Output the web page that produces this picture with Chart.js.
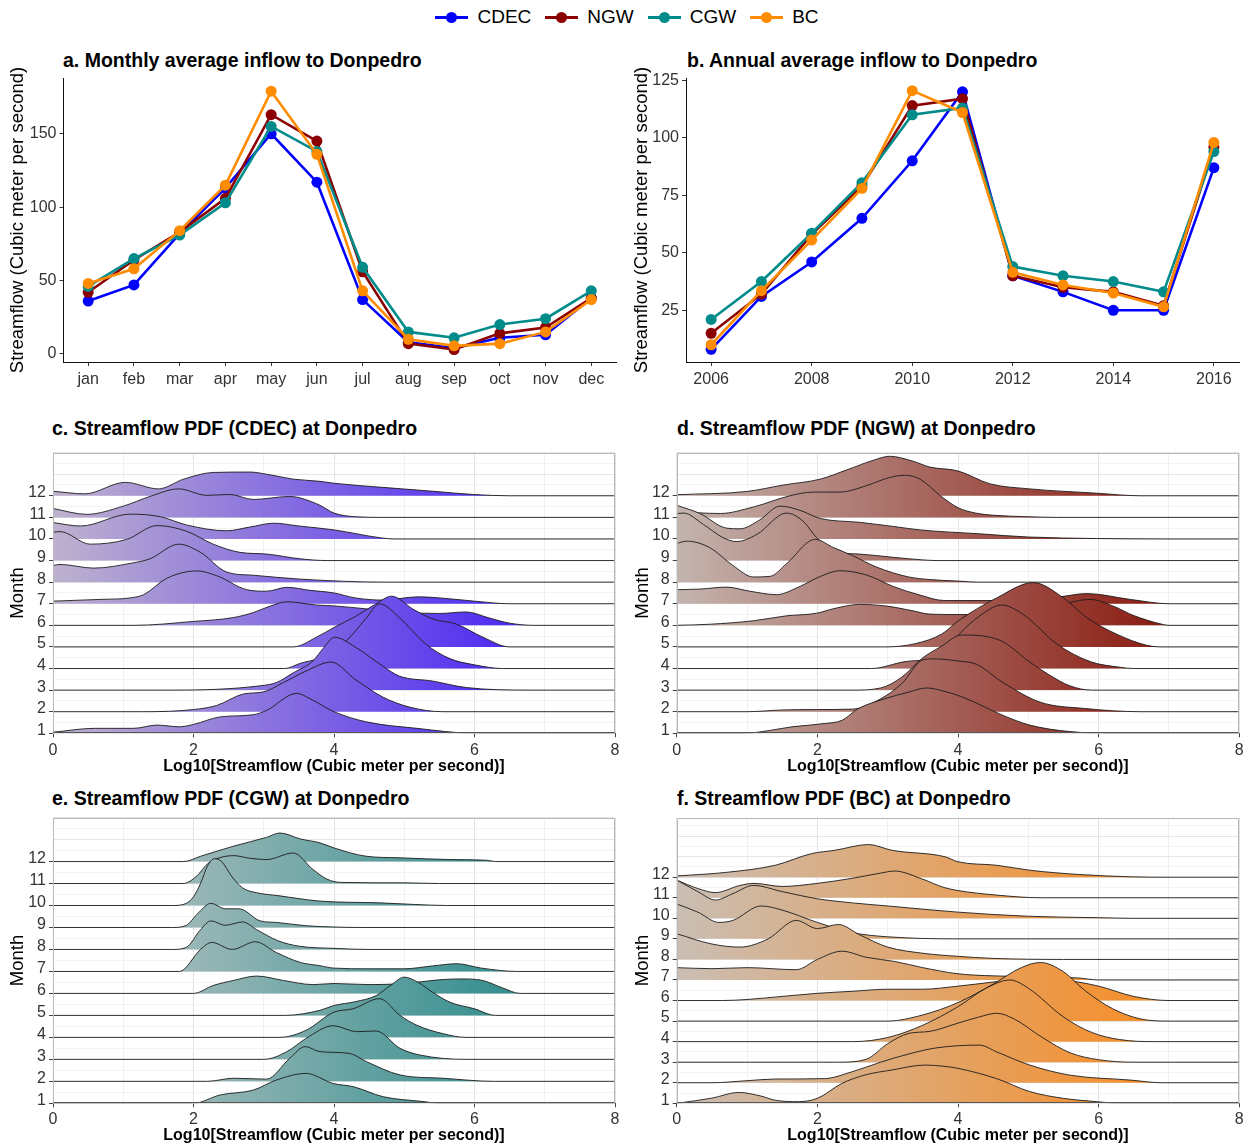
<!DOCTYPE html>
<html><head><meta charset="utf-8">
<script src="https://cdn.jsdelivr.net/npm/chart.js@4.4.1/dist/chart.umd.min.js"></script>
<style>
body{margin:0;background:#fff;}
#wrap{position:relative;width:1254px;height:1147px;background:#fff;font-family:"Liberation Sans",Arial,sans-serif;overflow:hidden}
.box{position:absolute}
.ttl{position:absolute;font-weight:bold;font-size:19.5px;line-height:24px;color:#000;white-space:nowrap}
#legend{position:absolute;top:4px;left:0;width:1254px;display:flex;justify-content:center;align-items:center;font-size:19px;line-height:26px;color:#000}
.lg{display:flex;align-items:center;margin:0 7px}
.sym{position:relative;width:33px;height:3px;margin-right:9px}
.sym i{position:absolute;left:11px;top:-4px;width:11px;height:11px;border-radius:50%}
</style></head>
<body>
<div id="wrap">
  <div id="legend"></div>
  <div class="ttl" style="left:63px;top:48px">a. Monthly average inflow to Donpedro</div>
  <div class="ttl" style="left:687px;top:48px">b. Annual average inflow to Donpedro</div>
  <div class="ttl" style="left:52px;top:416px">c. Streamflow PDF (CDEC) at Donpedro</div>
  <div class="ttl" style="left:677px;top:416px">d. Streamflow PDF (NGW) at Donpedro</div>
  <div class="ttl" style="left:52px;top:786px">e. Streamflow PDF (CGW) at Donpedro</div>
  <div class="ttl" style="left:677px;top:786px">f. Streamflow PDF (BC) at Donpedro</div>
  <div class="box" style="left:0;top:40px"><canvas id="ca" width="627" height="360"></canvas></div>
  <div class="box" style="left:627px;top:40px"><canvas id="cb" width="627" height="360"></canvas></div>
  <div class="box" style="left:0;top:440px"><canvas id="cc" width="627" height="340"></canvas></div>
  <div class="box" style="left:627px;top:440px"><canvas id="cd" width="627" height="340"></canvas></div>
  <div class="box" style="left:0;top:805px"><canvas id="ce" width="627" height="342"></canvas></div>
  <div class="box" style="left:627px;top:805px"><canvas id="cf" width="627" height="342"></canvas></div>
</div>
<script>
// ---------------- DATA ----------------
const seriesNames = ['CDEC', 'NGW', 'CGW', 'BC'];
const seriesColors = ['#0000FF', '#8B0000', '#008B8B', '#FF8C00'];

const monthLabels = ['jan','feb','mar','apr','may','jun','jul','aug','sep','oct','nov','dec'];
const cdecMonthly = [36, 47, 82, 113, 150, 117, 37, 8, 4, 11, 13, 38];
const ngwMonthly  = [42, 64, 83, 106, 163, 145, 56, 7, 3, 14, 18, 38];
const cgwMonthly  = [46, 65, 81, 103, 155, 138, 59, 15, 11, 20, 24, 43];
const bcMonthly   = [48, 58, 84, 115, 179, 136, 43, 10, 5.5, 7, 15, 37];

const years = [2006, 2007, 2008, 2009, 2010, 2011, 2012, 2013, 2014, 2015, 2016];
const cdecAnnual = [8, 31, 46, 65, 90, 120, 40, 33, 25, 25, 87];
const ngwAnnual  = [15, 32, 58, 79, 114, 117, 40, 35, 33, 27, 96];
const cgwAnnual  = [21, 37.5, 58.5, 80.5, 110, 113, 44, 40, 37.5, 33, 94];
const bcAnnual   = [10, 33.5, 55.5, 78, 120.5, 111, 41.5, 36, 32.5, 26.5, 98];

const ridgeMonths = [1,2,3,4,5,6,7,8,9,10,11,12];
const xTicks = [0, 2, 4, 6, 8];

// density knots [log10 flow, height in month-row units], month 1 .. 12
const cdecPdf = [
 [[0,0.05],[0.6,0.23],[1.15,0.23],[1.48,0.38],[1.8,0.3],[2.0,0.41],[2.38,0.76],[2.85,0.86],[3.04,1.06],[3.47,1.85],[3.66,1.6],[4.0,1.0],[4.46,0.53],[5.18,0.23],[6.0,0]],
 [[1.29,0],[2.0,0.1],[2.33,0.29],[2.71,0.82],[3.0,0.92],[3.28,1.35],[3.6,1.88],[3.96,2.3],[4.3,1.5],[4.7,0.67],[5.08,0.21],[5.55,0]],
 [[1.72,0],[2.95,0.2],[3.18,0.35],[3.42,0.8],[3.7,1.35],[3.85,1.95],[4.01,2.45],[4.3,2.0],[4.7,1.1],[4.93,0.65],[5.4,0.42],[5.88,0.12],[6.8,0]],
 [[3.3,0],[3.52,0.24],[3.8,0.5],[4.18,1.3],[4.45,2.3],[4.65,3.0],[4.93,2.36],[5.3,1.15],[5.64,0.47],[6.0,0.17],[6.4,0]],
 [[3.42,0],[3.75,0.45],[4.0,0.9],[4.3,1.4],[4.6,2.0],[4.82,2.35],[5.13,1.74],[5.41,1.29],[5.74,1.06],[6.12,0.45],[6.5,0]],
 [[1.15,0],[2.0,0.18],[2.57,0.36],[2.85,0.59],[3.1,0.9],[3.33,1.09],[3.75,0.94],[4.0,0.9],[4.5,0.75],[5.0,0.6],[5.5,0.55],[5.88,0.62],[6.2,0.35],[6.5,0.1],[6.85,0]],
 [[0,0.12],[0.67,0.2],[1.1,0.27],[1.29,0.42],[1.62,1.18],[2.05,1.52],[2.33,1.3],[2.76,0.65],[3.04,0.58],[3.33,0.76],[3.66,0.62],[4.0,0.5],[4.3,0.27],[4.7,0.17],[5.2,0.32],[5.5,0.27],[6.0,0.12],[6.5,0]],
 [[0,0.77],[0.1,0.82],[0.58,0.65],[1.15,0.9],[1.38,1.08],[1.79,1.76],[2.1,1.38],[2.47,0.47],[2.85,0.32],[3.52,0.14],[4.75,0]],
 [[0,1.32],[0.1,1.34],[0.53,0.76],[1.05,0.98],[1.48,1.62],[1.9,1.36],[2.28,0.76],[2.66,0.38],[3.04,0.3],[3.52,0.08],[3.9,0]],
 [[0,0.76],[0.39,0.6],[1.1,1.15],[1.53,1.03],[1.9,0.65],[2.47,0.38],[2.8,0.55],[3.14,0.73],[3.5,0.6],[4.0,0.42],[4.67,0.05],[4.85,0]],
 [[0,0.41],[0.48,0.14],[1.0,0.52],[1.38,0.97],[1.79,1.32],[2.19,1.02],[2.52,1.06],[2.85,0.83],[3.37,0.97],[3.52,0.9],[3.8,0.56],[4.0,0.2],[4.3,0.03],[4.7,0]],
 [[0,0.21],[0.45,0.09],[1.03,0.62],[1.5,0.32],[1.86,0.77],[2.28,1.08],[2.8,1.1],[3.04,1.0],[3.42,0.77],[3.8,0.67],[4.0,0.58],[4.69,0.39],[5.41,0.21],[5.98,0.06],[6.5,0]]
];
const ngwPdf = [
 [[0.97,0],[1.3,0.12],[1.64,0.3],[2.1,0.45],[2.35,0.6],[2.58,1.14],[2.96,1.6],[3.29,1.9],[3.55,2.1],[3.8,1.95],[4.07,1.67],[4.64,0.83],[5.02,0.38],[5.59,0.08],[6.2,0]],
 [[1.0,0],[1.5,0.08],[2.0,0.1],[2.5,0.12],[2.9,0.6],[3.2,1.3],[3.5,2.4],[3.65,2.45],[4.0,2.35],[4.26,2.2],[4.64,1.35],[5.17,0.44],[5.8,0.15],[6.6,0]],
 [[2.5,0],[2.9,0.1],[3.2,0.6],[3.5,1.5],[3.75,2.0],[4.05,2.55],[4.6,2.3],[5.02,1.3],[5.3,0.7],[5.59,0.2],[5.9,0]],
 [[2.77,0],[3.25,0.32],[3.77,0.62],[4.0,1.53],[4.31,2.44],[4.62,2.94],[4.93,2.5],[5.4,1.15],[5.88,0.32],[6.3,0.06],[6.5,0]],
 [[2.96,0],[3.39,0.15],[3.77,0.6],[4.0,1.2],[4.55,2.27],[5.07,2.98],[5.5,2.27],[5.83,1.36],[6.25,0.6],[6.68,0.08],[6.9,0]],
 [[0,0],[0.47,0.05],[1.09,0.21],[1.56,0.44],[1.99,0.56],[2.23,0.77],[2.6,0.97],[2.99,0.89],[3.36,0.67],[3.6,0.52],[4.0,0.5],[4.5,0.5],[5.0,0.6],[5.4,0.9],[5.88,1.2],[6.2,0.9],[6.5,0.45],[6.9,0.05],[7.0,0]],
 [[0,0.65],[0.33,0.68],[0.71,0.77],[1.04,0.58],[1.42,0.42],[1.75,0.8],[2.04,1.26],[2.32,1.53],[2.7,1.33],[3.08,0.8],[3.46,0.4],[3.8,0.15],[4.5,0.15],[5.0,0.2],[5.4,0.3],[5.83,0.47],[6.45,0.2],[7.0,0]],
 [[0,1.79],[0.14,1.9],[0.47,1.6],[0.8,0.77],[1.09,0.24],[1.33,0.27],[1.56,0.85],[1.97,1.98],[2.23,1.6],[2.5,1.23],[2.84,0.7],[3.3,0.24],[3.6,0.12],[4.0,0.05],[4.3,0]],
 [[0,2.17],[0.1,2.2],[0.38,1.67],[0.66,1.06],[0.85,0.88],[1.14,1.21],[1.56,2.2],[1.8,1.82],[1.99,1.06],[2.32,0.38],[2.6,0.3],[3.08,0.15],[3.5,0.03],[3.7,0]],
 [[0,1.56],[0.33,1.18],[0.71,0.5],[0.9,0.47],[1.18,0.88],[1.47,1.52],[1.75,1.33],[2.04,0.95],[2.6,0.77],[3.08,0.58],[3.46,0.42],[4.3,0.24],[5.0,0.09],[5.97,0.02],[6.97,0]],
 [[0,0.26],[0.62,0.18],[1.09,0.48],[1.61,1.0],[1.94,1.17],[2.32,1.17],[2.7,1.47],[3.03,1.85],[3.25,1.95],[3.46,1.77],[3.75,1.0],[4.0,0.45],[4.25,0.2],[4.5,0.1],[5.0,0.03],[5.4,0]],
 [[0,0.05],[1.0,0.2],[1.52,0.5],[2.04,0.77],[2.42,1.2],[2.8,1.65],[3.03,1.83],[3.36,1.6],[3.6,1.33],[4.0,1.15],[4.46,0.55],[5.02,0.32],[5.97,0.12],[6.6,0]]
];
const cgwPdf = [
 [[2.0,0],[2.38,0.38],[2.85,0.6],[3.18,1.06],[3.6,1.36],[3.99,0.9],[4.27,0.76],[4.7,0.3],[5.27,0.08],[5.5,0]],
 [[2.2,0],[2.57,0.14],[3.04,0.1],[3.37,1.05],[3.59,1.58],[3.8,1.35],[4.22,1.27],[4.46,0.9],[4.94,0.29],[5.55,0.14],[6.27,0]],
 [[3.0,0],[3.33,0.35],[3.6,0.95],[3.99,1.53],[4.32,1.26],[4.6,1.29],[4.94,0.5],[5.22,0.2],[5.88,0]],
 [[3.23,0],[3.6,0.32],[4.0,1.15],[4.27,1.3],[4.65,1.76],[4.94,1.0],[5.18,0.55],[5.55,0.17],[5.88,0]],
 [[3.3,0],[3.8,0.23],[4.0,0.45],[4.3,0.62],[4.6,0.9],[4.8,1.35],[5.0,1.74],[5.2,1.5],[5.4,1.06],[5.65,0.6],[6.0,0.3],[6.3,0]],
 [[2.0,0],[2.28,0.36],[2.57,0.59],[2.9,0.79],[3.28,0.59],[3.7,0.4],[4.0,0.45],[4.5,0.4],[5.0,0.45],[5.5,0.62],[5.8,0.66],[6.1,0.6],[6.4,0.25],[6.65,0]],
 [[1.8,0],[2.1,1.0],[2.26,1.32],[2.55,1.0],[2.88,1.35],[3.18,0.86],[3.52,0.41],[3.8,0.26],[4.0,0.15],[4.5,0.12],[5.0,0.12],[5.4,0.25],[5.75,0.35],[6.1,0.15],[6.6,0]],
 [[1.7,0],[1.9,0.1],[2.1,0.9],[2.25,1.3],[2.45,1.1],[2.7,1.25],[2.9,0.9],[3.2,0.4],[3.5,0.15],[4.0,0.05],[4.5,0]],
 [[1.7,0],[1.9,0.1],[2.05,0.6],[2.25,1.1],[2.45,0.85],[2.65,0.85],[2.95,0.3],[3.18,0.23],[3.6,0.08],[4.0,0.02],[4.4,0]],
 [[1.7,0],[1.9,0.1],[2.0,0.4],[2.1,1.0],[2.2,1.8],[2.3,2.13],[2.4,2.0],[2.55,1.3],[2.7,0.8],[2.9,0.58],[3.2,0.45],[3.8,0.2],[4.65,0.12],[5.13,0.05],[5.6,0]],
 [[1.85,0],[2.05,0.35],[2.2,0.9],[2.35,1.15],[2.57,1.27],[2.8,1.15],[3.04,1.09],[3.42,1.39],[3.7,0.64],[3.9,0.2],[4.1,0.05],[5.0,0.03],[5.5,0]],
 [[1.86,0],[2.1,0.24],[2.57,0.7],[3.04,1.1],[3.23,1.3],[3.52,1.03],[3.8,0.85],[4.0,0.62],[4.46,0.24],[4.94,0.17],[5.65,0.09],[6.17,0.06],[6.3,0]]
];
const bcPdf = [
 [[0,0],[0.5,0.25],[0.88,0.53],[1.2,0.35],[1.4,0.15],[1.73,0.08],[2.0,0.24],[2.35,0.97],[2.68,1.38],[3.06,1.62],[3.53,1.86],[3.8,1.8],[4.0,1.7],[4.55,1.2],[5.02,0.57],[5.5,0.24],[5.97,0.08],[6.3,0]],
 [[0.5,0],[1.0,0.1],[1.4,0.18],[2.1,0.2],[2.49,0.53],[2.9,1.0],[3.3,1.4],[3.7,1.7],[4.31,1.83],[4.55,1.5],[5.02,0.86],[5.59,0.37],[6.45,0.13],[6.9,0]],
 [[2.3,0],[2.7,0.15],[3.0,0.9],[3.3,1.4],[3.6,1.5],[4.0,1.9],[4.3,2.2],[4.55,2.38],[4.8,2.1],[5.2,1.2],[5.6,0.45],[6.0,0.12],[6.5,0]],
 [[2.5,0],[3.0,0.2],[3.5,0.8],[4.0,1.7],[4.4,2.6],[4.74,3.0],[5.0,2.6],[5.5,1.2],[5.9,0.45],[6.3,0.1],[6.8,0]],
 [[3.0,0],[3.5,0.3],[4.0,0.9],[4.5,1.8],[4.9,2.6],[5.17,2.85],[5.5,2.4],[5.8,1.5],[6.2,0.6],[6.6,0.1],[7.0,0]],
 [[0.65,0],[1.0,0.05],[1.5,0.2],[2.0,0.35],[2.5,0.45],[3.0,0.55],[3.5,0.55],[4.0,0.7],[4.5,0.9],[5.0,1.1],[5.5,1.0],[6.0,0.7],[6.5,0.2],[7.0,0]],
 [[0,0.6],[0.5,0.55],[1.0,0.6],[1.7,0.5],[2.0,1.0],[2.35,1.4],[2.7,1.1],[3.1,0.9],[3.5,0.6],[4.0,0.3],[4.5,0.2],[5.2,0.15],[5.7,0.1],[6.0,0]],
 [[0,1.25],[0.5,0.75],[0.9,0.6],[1.3,1.0],[1.7,1.9],[2.0,1.5],[2.3,1.7],[2.6,1.2],[3.0,0.6],[3.5,0.3],[4.0,0.15],[4.5,0.05],[5.5,0]],
 [[0,1.7],[0.3,1.3],[0.6,0.8],[0.8,0.9],[1.2,1.6],[1.5,1.4],[2.0,0.8],[2.5,0.3],[3.0,0.1],[4.0,0]],
 [[0,1.86],[0.3,1.3],[0.55,0.89],[0.8,1.2],[1.09,1.6],[1.5,1.3],[2.0,0.95],[2.5,0.75],[3.0,0.6],[4.0,0.3],[5.0,0.1],[6.0,0.03],[6.5,0]],
 [[0,0.86],[0.3,0.45],[0.55,0.25],[0.9,0.6],[1.1,0.7],[1.5,0.55],[2.0,0.7],[2.5,0.95],[2.9,1.2],[3.1,1.3],[3.5,0.9],[3.8,0.5],[4.0,0.35],[4.55,0.13],[5.17,0]],
 [[0,0.06],[0.69,0.23],[1.4,0.58],[1.92,1.15],[2.25,1.31],[2.73,1.59],[3.06,1.31],[3.82,0.99],[4.0,0.75],[4.55,0.58],[5.02,0.34],[5.73,0.13],[6.45,0.02],[7.0,0]]
];

// ---------------- HELPERS ----------------
const FONT = "'Liberation Sans', Arial, sans-serif";
Chart.defaults.font.family = FONT;
Chart.defaults.color = '#333';

const lg = document.getElementById('legend');
seriesNames.forEach((n, i) => {
  const d = document.createElement('div'); d.className = 'lg';
  d.innerHTML = '<div class="sym" style="background:' + seriesColors[i] + '"><i style="background:' + seriesColors[i] + '"></i></div><span>' + n + '</span>';
  lg.appendChild(d);
});

function fixedTicks(values) { return (scale) => { scale.ticks = values.map(v => ({ value: v })); }; }

function lineDs(label, xs, ys, color, order) {
  return {
    label, order,
    data: xs.map((x, i) => ({ x, y: ys[i] })),
    borderColor: color, backgroundColor: color,
    pointBackgroundColor: color, pointBorderWidth: 0,
    pointRadius: 5.5, pointHoverRadius: 5.5,
    borderWidth: 2.6, tension: 0, fill: false
  };
}

function topChart(id, xs, ys4, xMin, xMax, xTickVals, xLabel, yMin, yMax, yTickVals, yWidth, padRight, yTitlePad) {
  new Chart(document.getElementById(id), {
    type: 'line',
    data: { datasets: ys4.map((ys, i) => lineDs(seriesNames[i], xs, ys, seriesColors[i], 4 - i)) },
    options: {
      responsive: false, animation: false, devicePixelRatio: 1,
      layout: { padding: { top: 38, right: padRight, left: 0, bottom: 0 } },
      plugins: { legend: { display: false }, tooltip: { enabled: false } },
      scales: {
        x: {
          type: 'linear', min: xMin, max: xMax,
          afterBuildTicks: fixedTicks(xTickVals),
          afterFit: s => { s.height = 38; },
          ticks: { callback: xLabel, font: { size: 16 }, color: '#333', padding: 4, autoSkip: false, maxRotation: 0 },
          grid: { drawOnChartArea: false, drawTicks: true, tickLength: 4, color: '#333' },
          border: { display: true, color: '#111', width: 1 }
        },
        y: {
          type: 'linear', min: yMin, max: yMax,
          afterBuildTicks: fixedTicks(yTickVals),
          afterFit: s => { s.width = yWidth; },
          ticks: { font: { size: 16 }, color: '#333', padding: 3 },
          grid: { drawOnChartArea: false, drawTicks: true, tickLength: 4, color: '#333' },
          border: { display: true, color: '#111', width: 1 },
          title: { display: true, text: 'Streamflow (Cubic meter per second)', color: '#000',
                   font: { size: 18.5, lineHeight: 1.2 }, padding: { top: yTitlePad, bottom: 0 } }
        }
      }
    }
  });
}

const framePlugin = {
  id: 'frame',
  afterDraw(chart) {
    const { ctx, chartArea: a } = chart;
    const l = Math.round(a.left) + 0.5, r = Math.round(a.right) - 0.5, t = Math.round(a.top) + 0.5, b = Math.round(a.bottom) - 0.5;
    ctx.save();
    ctx.lineWidth = 1;
    ctx.strokeStyle = '#b8b8b8';
    ctx.beginPath(); ctx.moveTo(l, b); ctx.lineTo(l, t); ctx.lineTo(r, t); ctx.lineTo(r, b); ctx.stroke();
    ctx.strokeStyle = '#555';
    ctx.beginPath(); ctx.moveTo(l, b); ctx.lineTo(r, b); ctx.stroke();
    ctx.restore();
  }
};

function ridgeChart(id, pdf, c0, c1, yMax, yWidth, padTop, padRight, xHeight, yTitlePad, xTitlePadB, xTickPad) {
  const grad = (ctx) => {
    const ch = ctx.chart;
    if (!ch.chartArea) return c0;
    if (ch.$grad) return ch.$grad;
    const g = ch.ctx.createLinearGradient(ch.scales.x.getPixelForValue(0), 0, ch.scales.x.getPixelForValue(7), 0);
    g.addColorStop(0, c0); g.addColorStop(1, c1);
    ch.$grad = g; return g;
  };
  const datasets = pdf.map((knots, i) => {
    const m = ridgeMonths[i];
    const pts = [];
    if (knots[0][0] > 0) pts.push({ x: 0, y: m });
    knots.forEach(([x, h]) => pts.push({ x, y: m + h }));
    if (knots[knots.length - 1][0] < 8) pts.push({ x: 8, y: m });
    return {
      label: 'Month ' + m, data: pts,
      fill: { value: m }, backgroundColor: grad,
      borderColor: '#1c1c1c', borderWidth: 0.9,
      pointRadius: 0, pointHoverRadius: 0,
      cubicInterpolationMode: 'monotone'
    };
  });
  const yTickVals = [];
  for (let v = 1; v <= Math.floor(yMax * 2) / 2 + 1e-9; v += 0.5) yTickVals.push(v);
  new Chart(document.getElementById(id), {
    type: 'line',
    data: { datasets },
    options: {
      responsive: false, animation: false, devicePixelRatio: 1,
      layout: { padding: { top: padTop, right: padRight, left: 0, bottom: 0 } },
      plugins: { legend: { display: false }, tooltip: { enabled: false } },
      scales: {
        x: {
          type: 'linear', min: 0, max: 8,
          afterBuildTicks: fixedTicks([0,1,2,3,4,5,6,7,8]),
          afterFit: s => { s.height = xHeight; },
          ticks: { callback: v => (xTicks.includes(v) ? String(v) : ''), font: { size: 16 }, color: '#333', padding: xTickPad, autoSkip: false, maxRotation: 0 },
          grid: { drawTicks: true, tickLength: 4,
                  color: c => (c.tick && c.tick.value % 2 === 0 ? '#e2e2e2' : '#f1f1f1'),
                  tickColor: c => (c.tick && c.tick.value % 2 === 0 ? '#444' : 'rgba(0,0,0,0)') },
          border: { display: false },
          title: { display: true, text: 'Log10[Streamflow (Cubic meter per second)]', color: '#000',
                   font: { size: 16, weight: 'bold', lineHeight: 1.2 }, padding: { top: 0, bottom: xTitlePadB } }
        },
        y: {
          type: 'linear', min: 1, max: yMax,
          afterBuildTicks: fixedTicks(yTickVals),
          afterFit: s => { s.width = yWidth; },
          ticks: { callback: v => (Number.isInteger(v) && v <= 12 ? String(v) : ''), font: { size: 16 }, color: '#333', padding: 3, autoSkip: false, labelOffset: -3 },
          grid: { drawTicks: true, tickLength: 4,
                  color: c => (c.tick && Number.isInteger(c.tick.value) ? '#e6e6e6' : '#f3f3f3'),
                  tickColor: c => (c.tick && Number.isInteger(c.tick.value) && c.tick.value <= 12 ? '#444' : 'rgba(0,0,0,0)') },
          border: { display: false },
          title: { display: true, text: 'Month', color: '#000',
                   font: { size: 18.5, lineHeight: 1.2 }, padding: { top: yTitlePad, bottom: 0 } }
        }
      }
    },
    plugins: [framePlugin]
  });
}

// ---------------- CHARTS ----------------
topChart('ca', [1,2,3,4,5,6,7,8,9,10,11,12], [cdecMonthly, ngwMonthly, cgwMonthly, bcMonthly],
  0.46, 12.54, [1,2,3,4,5,6,7,8,9,10,11,12], v => monthLabels[Math.round(v) - 1],
  -5.5, 188, [0, 50, 100, 150], 63.5, 11, 7);
topChart('cb', years, [cdecAnnual, ngwAnnual, cgwAnnual, bcAnnual],
  2005.5, 2016.5, [2006, 2008, 2010, 2012, 2014, 2016], v => String(v),
  2.5, 126, [25, 50, 75, 100, 125], 59, 15, 4);

ridgeChart('cc', cdecPdf, '#BEB2CE', '#4620F5', 14, 53, 7, 12, 46.7, 7, 4, 4);
ridgeChart('cd', ngwPdf, '#C4B4AE', '#8A1A10', 14, 49.7, 7, 14.7, 46.7, 5, 4, 4);
ridgeChart('ce', cgwPdf, '#C4C8C8', '#2A8A8A', 14, 53, 11.7, 12, 43.7, 7, 2, 3);
ridgeChart('cf', bcPdf, '#CABEB4', '#F88C23', 14.9, 49.7, 11.7, 14.7, 43.7, 5, 2, 3);
</script>
</body></html>
